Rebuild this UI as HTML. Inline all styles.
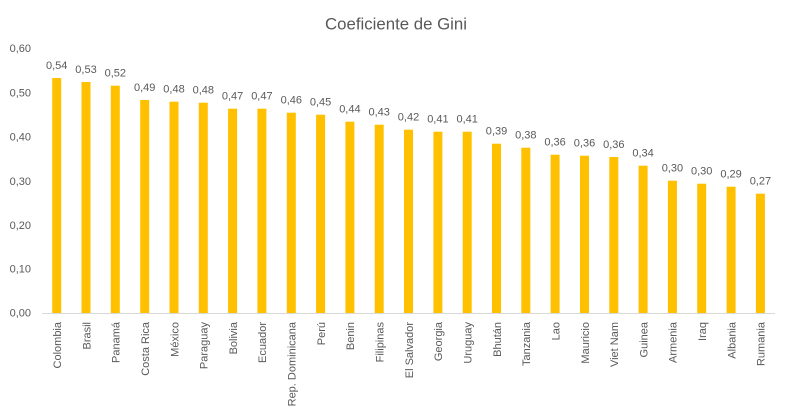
<!DOCTYPE html>
<html>
<head>
<meta charset="utf-8">
<style>
html,body{margin:0;padding:0;background:#fff;}
svg{display:block;}
text{font-family:"Liberation Sans",Arial,sans-serif;fill:#595959;}
</style>
</head>
<body>
<svg width="790" height="413" viewBox="0 0 790 413" xmlns="http://www.w3.org/2000/svg">
<rect width="790" height="413" fill="#fff"/>
<text x="396" y="29.5" font-size="17" text-anchor="middle" textLength="142" lengthAdjust="spacingAndGlyphs">Coeficiente de Gini</text>
<g font-size="11" text-anchor="end">
<text x="31" y="52">0,60</text>
<text x="31" y="96.5">0,50</text>
<text x="31" y="140.5">0,40</text>
<text x="31" y="185">0,30</text>
<text x="31" y="229">0,20</text>
<text x="31" y="272.5">0,10</text>
<text x="31" y="316.5">0,00</text>
</g>
<g fill="#FFC000">
<rect x="52.2" y="78" width="9" height="235.5"/>
<rect x="81.5" y="82" width="9" height="231.5"/>
<rect x="110.8" y="85.7" width="9" height="227.8"/>
<rect x="140.2" y="100" width="9" height="213.5"/>
<rect x="169.5" y="101.7" width="9" height="211.8"/>
<rect x="198.8" y="102.7" width="9" height="210.8"/>
<rect x="228.1" y="108.7" width="9" height="204.8"/>
<rect x="257.4" y="108.7" width="9" height="204.8"/>
<rect x="286.8" y="112.7" width="9" height="200.8"/>
<rect x="316.1" y="114.7" width="9" height="198.8"/>
<rect x="345.4" y="121.7" width="9" height="191.8"/>
<rect x="374.7" y="124.7" width="9" height="188.8"/>
<rect x="404.0" y="129.7" width="9" height="183.8"/>
<rect x="433.4" y="131.7" width="9" height="181.8"/>
<rect x="462.7" y="131.7" width="9" height="181.8"/>
<rect x="492.0" y="143.7" width="9" height="169.8"/>
<rect x="521.3" y="147.7" width="9" height="165.8"/>
<rect x="550.6" y="154.7" width="9" height="158.8"/>
<rect x="580.0" y="155.7" width="9" height="157.8"/>
<rect x="609.3" y="157" width="9" height="156.5"/>
<rect x="638.6" y="165.7" width="9" height="147.8"/>
<rect x="667.9" y="180.7" width="9" height="132.8"/>
<rect x="697.2" y="183.7" width="9" height="129.8"/>
<rect x="726.6" y="186.7" width="9" height="126.8"/>
<rect x="755.9" y="193.7" width="9" height="119.8"/>
</g>
<line x1="42" y1="313.5" x2="775" y2="313.5" stroke="#d9d9d9" stroke-width="1"/>
<g font-size="11" text-anchor="middle">
<text x="56.7" y="69">0,54</text>
<text x="86.0" y="73">0,53</text>
<text x="115.3" y="76.7">0,52</text>
<text x="144.7" y="91">0,49</text>
<text x="174.0" y="92.7">0,48</text>
<text x="203.3" y="93.7">0,48</text>
<text x="232.6" y="99.7">0,47</text>
<text x="261.9" y="99.7">0,47</text>
<text x="291.3" y="103.7">0,46</text>
<text x="320.6" y="105.7">0,45</text>
<text x="349.9" y="112.7">0,44</text>
<text x="379.2" y="115.7">0,43</text>
<text x="408.5" y="120.7">0,42</text>
<text x="437.9" y="122.7">0,41</text>
<text x="467.2" y="122.7">0,41</text>
<text x="496.5" y="134.7">0,39</text>
<text x="525.8" y="138.7">0,38</text>
<text x="555.1" y="145.7">0,36</text>
<text x="584.5" y="146.7">0,36</text>
<text x="613.8" y="148">0,36</text>
<text x="643.1" y="156.7">0,34</text>
<text x="672.4" y="171.7">0,30</text>
<text x="701.7" y="174.7">0,30</text>
<text x="731.1" y="177.7">0,29</text>
<text x="760.4" y="184.7">0,27</text>
</g>
<g font-size="11" text-anchor="end">
<text transform="translate(61.0,322) rotate(-90)">Colombia</text>
<text transform="translate(90.3,322) rotate(-90)">Brasil</text>
<text transform="translate(119.6,322) rotate(-90)">Panamá</text>
<text transform="translate(149.0,322) rotate(-90)">Costa Rica</text>
<text transform="translate(178.3,322) rotate(-90)">México</text>
<text transform="translate(207.6,322) rotate(-90)">Paraguay</text>
<text transform="translate(236.9,322) rotate(-90)">Bolivia</text>
<text transform="translate(266.2,322) rotate(-90)">Ecuador</text>
<text transform="translate(295.6,322) rotate(-90)">Rep. Dominicana</text>
<text transform="translate(324.9,322) rotate(-90)">Perú</text>
<text transform="translate(354.2,322) rotate(-90)">Benin</text>
<text transform="translate(383.5,322) rotate(-90)">Filipinas</text>
<text transform="translate(412.8,322) rotate(-90)">El Salvador</text>
<text transform="translate(442.2,322) rotate(-90)">Georgia</text>
<text transform="translate(471.5,322) rotate(-90)">Uruguay</text>
<text transform="translate(500.8,322) rotate(-90)">Bhután</text>
<text transform="translate(530.1,322) rotate(-90)">Tanzania</text>
<text transform="translate(559.4,322) rotate(-90)">Lao</text>
<text transform="translate(588.8,322) rotate(-90)">Mauricio</text>
<text transform="translate(618.1,322) rotate(-90)">Viet Nam</text>
<text transform="translate(647.4,322) rotate(-90)">Guinea</text>
<text transform="translate(676.7,322) rotate(-90)">Armenia</text>
<text transform="translate(706.0,322) rotate(-90)">Iraq</text>
<text transform="translate(735.4,322) rotate(-90)">Albania</text>
<text transform="translate(764.7,322) rotate(-90)">Rumania</text>
</g>
</svg>
</body>
</html>
